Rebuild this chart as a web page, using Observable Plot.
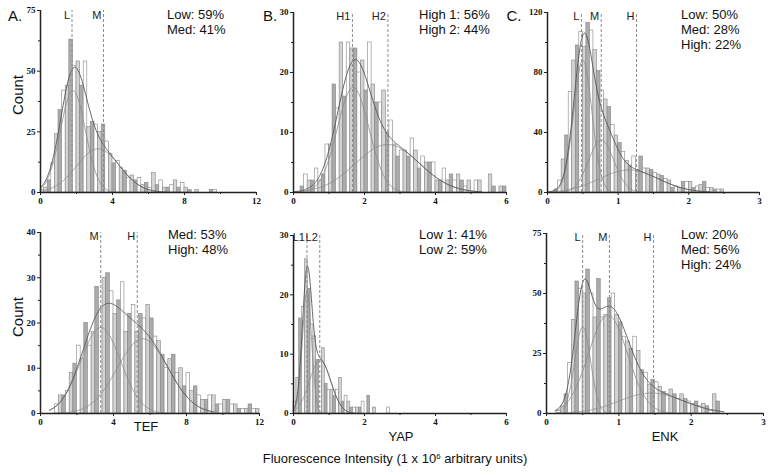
<!DOCTYPE html>
<html><head><meta charset="utf-8">
<script src="https://cdn.jsdelivr.net/npm/d3@7"></script>
<script src="https://cdn.jsdelivr.net/npm/@observablehq/plot@0.6"></script>
<style>
body{margin:0;background:#fff;}
#fig{position:relative;width:774px;height:475px;overflow:hidden;font-family:"Liberation Sans",Arial,sans-serif;color:#111;}
#fig svg{position:absolute;overflow:visible;}
.t{position:absolute;white-space:nowrap;line-height:1;}
.c{transform:translate(-50%,-50%);}
.v{transform:translate(-50%,-50%) rotate(-90deg);}
sup{font-size:0.6em;vertical-align:0;position:relative;top:-0.55em;}
</style></head><body><div id="fig"></div><script>
// ---------- Panel A ----------
const aCounts = [1,2,5,12,24,34,42,44,63,52,54,44,54,27,29,28,25,28,21,16,12,13,10,9,6,7,5,6,3,4,2,8,3,5,2,2,3,5,2,4,2,1,0,1,0,0,0,1,1,0];
const aStart = 0, aBin = 0.2;
const aMeans = [1.8, 3.2], aSds = [0.7, 1.2], aAmps = [42, 18];
const aMarkX = [1.75, 3.5], aMarkLabel = ["L", "M"];
const aNotes = ["Low: 59%", "Med: 41%"];
const aXTicks = [0, 4, 8, 12], aYTicks = [0, 25, 50, 75];

// ---------- Panel B ----------
const bCounts = [0,0,1,3,2,2,4,2,3,8, 8,18,14,25,16,25,24,24,20,22, 17,25,18,15,15,17,10,12,8,6, 7,7,6,9,7,4,6,5,5,5, 2,2,4,2,3,2,3,2,1,2, 0,2,2,0,0,3,1,0,1,1];
const bStart = 0, bBin = 0.1;
const bMeans = [1.68, 2.65], bSds = [0.45, 0.9], bAmps = [17.5, 8];
const bMarkX = [1.66, 2.66], bMarkLabel = ["H1", "H2"];
const bNotes = ["High 1: 56%", "High 2: 44%"];
const bXTicks = [0, 2, 4, 6], bYTicks = [0, 10, 20, 30];

// ---------- Panel C ----------
const cCounts = [0,0,2,8,22,38,67,88,98,107,97,113,108,95,81,68,62,57,45,38,33,27,21,18,24,15,24,16,16,15,13,12,11,9,8,3,4,3,7,7,7,3,4,5,7,3,3,2,2,2];
const cStart = 0, cBin = 0.05;
const cMeans = [0.5, 0.76, 1.15], cSds = [0.13, 0.18, 0.42], cAmps = [88, 35, 15];
const cMarkX = [0.48, 0.76, 1.26], cMarkLabel = ["L", "M", "H"];
const cNotes = ["Low: 50%", "Med: 28%", "High: 22%"];
const cXTicks = [0, 1, 2, 3], cYTicks = [0, 40, 80, 120];

// ---------- Panel D (TEF) ----------
const dCounts = [2,4,4,5,9,11,15,12,20,15,18,28,23,30,31,27,22,25,29,18,22,24,18,22,21,24,21,17,16,13,10,12,13,9,10,6,9,5,6,4,3,3,4,4,2,2,3,3,2,2,1,1,1,2,1,1];
const dStart = 0.8, dBin = 0.2;
const dMeans = [3.3, 5.6], dSds = [1.1, 1.4], dAmps = [19, 16.5];
const dMarkX = [3.3, 5.3], dMarkLabel = ["M", "H"];
const dNotes = ["Med: 53%", "High: 48%"];
const dXTicks = [0, 4, 8, 12], dYTicks = [0, 10, 20, 30, 40];

// ---------- Panel E (YAP) ----------
const eCounts = [2,6,16,18,26,21,15,13,9,9,11,5,4,4,3,4,6,2,3,2,1,1,1,1,2,0,3,0,1,0,0,0,0,1];
const eStart = 0, eBin = 0.08;
const eMeans = [0.38, 0.75], eSds = [0.13, 0.3], eAmps = [20.5, 9];
const eMarkX = [0.38, 0.74], eMarkLabel = ["L1", "L2"];
const eNotes = ["Low 1: 41%", "Low 2: 59%"];
const eXTicks = [0, 2, 4, 6], eYTicks = [0, 10, 20, 30];

// ---------- Panel F (ENK) ----------
const fCounts = [1,3,8,21,39,55,52,50,60,50,40,56,40,41,48,50,41,38,32,30,27,32,26,18,17,12,14,13,11,9,8,10,8,6,8,6,5,4,5,3,4,3,1,8,5];
const fStart = 0.15, fBin = 0.05;
const fMeans = [0.5, 0.85, 1.45], fSds = [0.11, 0.27, 0.45], fAmps = [36, 41, 8.5];
const fMarkX = [0.5, 0.87, 1.48], fMarkLabel = ["L", "M", "H"];
const fNotes = ["Low: 20%", "Med: 56%", "High: 24%"];
const fXTicks = [0, 1, 2, 3], fYTicks = [0, 25, 50, 75];

const panelLetters = ["A.", "B.", "C."];
const markerNames = ["TEF", "YAP", "ENK"];
const yTitle = "Count";

const barFills = ["#ffffff", "#d4d4d4", "#ababab"];
const tickFont = {fontFamily: "'Liberation Serif', 'Times New Roman', serif", fontWeight: "bold", fontSize: 9, fill: "#111"};

function minorBetween(t) {
  const out = [];
  for (let i = 0; i < t.length - 1; i++) out.push((t[i] + t[i + 1]) / 2);
  return out;
}

function panel(o) {
  const xMax = o.xTicks[o.xTicks.length - 1], yMax = o.yTicks[o.yTicks.length - 1];
  const bars = o.counts.map((c, i) => ({x1: o.start + i * o.bin, x2: o.start + (i + 1) * o.bin, c, i})).filter(d => d.c > 0);
  const step = (o.to - o.from) / 300;
  const xs = d3.range(o.from, o.to + step / 2, step);
  const comps = o.means.map((m, k) => xs.map(x => ({x, y: o.amps[k] * Math.exp(-((x - m) ** 2) / (2 * o.sds[k] ** 2))})));
  const sum = xs.map((x, j) => ({x, y: d3.sum(comps, c => c[j].y)}));
  const marks = o.markX.map((x, k) => ({x, y: yMax, t: o.markLabel[k]}));
  const p = Plot.plot({
    width: o.w, height: o.h,
    marginLeft: o.mL, marginRight: o.mR, marginTop: o.mT, marginBottom: o.mB,
    x: {domain: [0, xMax], axis: null, label: null},
    y: {domain: [0, yMax], axis: null, label: null},
    color: {type: "identity"},
    style: {fontFamily: "'Liberation Serif', serif", fontSize: "9px", fontWeight: "bold", background: "transparent", color: "#111"},
    marks: [
      Plot.rectY(bars, {x1: "x1", x2: "x2", y: "c", fill: d => barFills[d.i % barFills.length], stroke: "#858585", strokeWidth: 0.6}),
      ...comps.map(c => Plot.line(c, {x: "x", y: "y", stroke: "#8a8a8a", strokeWidth: 0.8})),
      Plot.line(sum, {x: "x", y: "y", stroke: "#555", strokeWidth: 0.9}),
      Plot.ruleX(marks, {x: "x", y1: 0, y2: yMax, stroke: "#8c8c8c", strokeWidth: 1, strokeDasharray: "3,2"}),
      Plot.text(marks, {x: "x", y: "y", text: "t", textAnchor: "end", dx: -2, dy: o.labDy, fontFamily: "'Liberation Sans', Arial, sans-serif", fontWeight: "normal", fontSize: 11, fill: "#222"}),
      Plot.ruleY([0], {stroke: "#222", strokeWidth: 1.5}),
      Plot.ruleX([0], {stroke: "#222", strokeWidth: 1.5}),
      Plot.axisX({ticks: o.xTicks, tickSize: 3, tickPadding: 2, stroke: "#222", label: null, tickFormat: d => String(d), ...tickFont}),
      Plot.axisX({ticks: minorBetween(o.xTicks), tickSize: 2, stroke: "#222", label: null, tickFormat: () => ""}),
      Plot.axisY({ticks: o.yTicks, tickSize: 3, tickPadding: 2, stroke: "#222", label: null, tickFormat: d => String(d), ...tickFont}),
      Plot.axisY({ticks: minorBetween(o.yTicks), tickSize: 2, stroke: "#222", label: null, tickFormat: () => ""})
    ]
  });
  p.style.left = o.left + "px";
  p.style.top = o.top + "px";
  return p;
}

const fig = document.getElementById("fig");
const specs = [
  {left: 0, top: 0, w: 270, h: 215, mL: 40, mR: 14, mT: 10, mB: 23, counts: aCounts, start: aStart, bin: aBin, means: aMeans, sds: aSds, amps: aAmps, from: 0, to: 8, markX: aMarkX, markLabel: aMarkLabel, xTicks: aXTicks, yTicks: aYTicks, labDy: 5},
  {left: 260, top: 0, w: 260, h: 215, mL: 33, mR: 14, mT: 12, mB: 23, counts: bCounts, start: bStart, bin: bBin, means: bMeans, sds: bSds, amps: bAmps, from: 0, to: 5.3, markX: bMarkX, markLabel: bMarkLabel, xTicks: bXTicks, yTicks: bYTicks, labDy: 4},
  {left: 515, top: 0, w: 259, h: 215, mL: 32, mR: 15, mT: 12, mB: 23, counts: cCounts, start: cStart, bin: cBin, means: cMeans, sds: cSds, amps: cAmps, from: 0, to: 2.3, markX: cMarkX, markLabel: cMarkLabel, xTicks: cXTicks, yTicks: cYTicks, labDy: 4},
  {left: 0, top: 220, w: 270, h: 215, mL: 40, mR: 11, mT: 12, mB: 22, counts: dCounts, start: dStart, bin: dBin, means: dMeans, sds: dSds, amps: dAmps, from: 0.5, to: 9.5, markX: dMarkX, markLabel: dMarkLabel, xTicks: dXTicks, yTicks: dYTicks, labDy: 4},
  {left: 260, top: 220, w: 260, h: 215, mL: 33, mR: 14, mT: 15, mB: 22, counts: eCounts, start: eStart, bin: eBin, means: eMeans, sds: eSds, amps: eAmps, from: 0, to: 1.7, markX: eMarkX, markLabel: eMarkLabel, xTicks: eXTicks, yTicks: eYTicks, labDy: 2},
  {left: 515, top: 220, w: 259, h: 215, mL: 31, mR: 11, mT: 13, mB: 22, counts: fCounts, start: fStart, bin: fBin, means: fMeans, sds: fSds, amps: fAmps, from: 0.12, to: 2.45, markX: fMarkX, markLabel: fMarkLabel, xTicks: fXTicks, yTicks: fYTicks, labDy: 4}
];
specs.forEach(s => fig.appendChild(panel(s)));

function addText(txt, left, top, size, cls, html) {
  const d = document.createElement("div");
  d.className = "t " + (cls || "");
  d.style.left = left + "px";
  d.style.top = top + "px";
  d.style.fontSize = size + "px";
  if (html) d.innerHTML = txt; else d.textContent = txt;
  fig.appendChild(d);
  return d;
}
addText(panelLetters[0], 15, 15, 15, "c");
addText(panelLetters[1], 270, 15, 15, "c");
addText(panelLetters[2], 514, 15, 15, "c");
addText(yTitle, 17, 95, 15, "v");
addText(yTitle, 17, 317, 15, "v");
function notes(arr, left, top) {
  arr.forEach((t, i) => addText(t, left, top + i * 15 - 7, 13, ""));
}
notes(aNotes, 167, 15);
notes(bNotes, 419, 15);
notes(cNotes, 681, 15);
notes(dNotes, 168, 235);
notes(eNotes, 419, 235);
notes(fNotes, 681, 235);
addText(markerNames[0], 146, 426, 13, "c");
addText(markerNames[1], 401, 436, 13, "c");
addText(markerNames[2], 665, 436, 13, "c");
addText("Fluorescence Intensity (1 x 10<sup>6</sup> arbitrary units)", 395, 458, 13, "c", true);
</script></body></html>
